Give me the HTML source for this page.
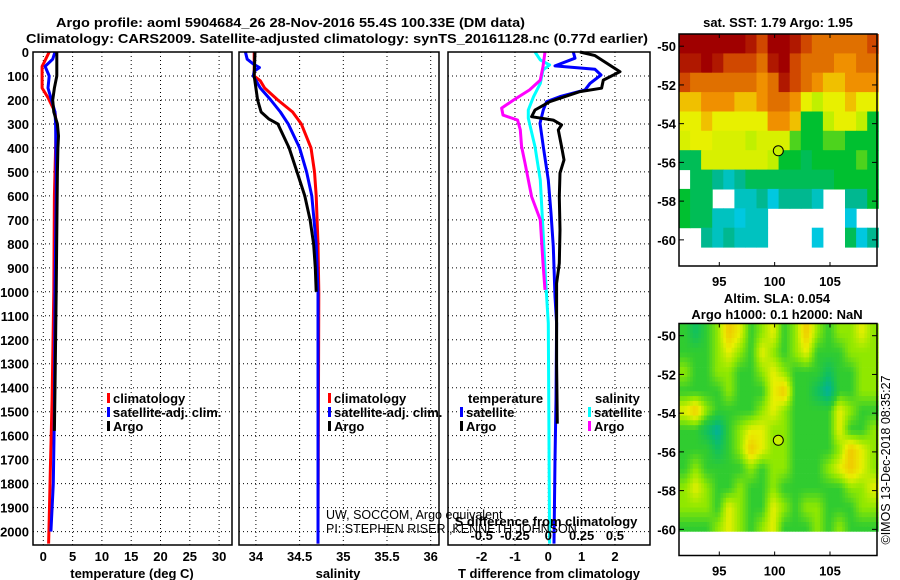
<!DOCTYPE html>
<html><head><meta charset="utf-8">
<style>
html,body{margin:0;padding:0;background:#fff;}
svg{display:block;font-family:"Liberation Sans",Arial,sans-serif;}
.b{font-weight:bold;font-size:13px;}
</style></head>
<body>
<svg id="c" width="900" height="580" viewBox="0 0 900 580"></svg>
<script>
// ---------- data ----------
const tDepthClim=[0,40,60,150,190,250,300,500,600,1000,1450,1750,1950,2050];
const tClim=[1.0,0.2,-0.2,-0.2,0.8,2.0,2.2,2.0,1.9,1.8,1.5,1.2,1.0,0.9];
const tDepthSat=[0,30,60,100,150,200,250,300,500,600,1000,1500,1800,2000];
const tSat=[2.0,1.6,0.3,1.0,0.8,1.4,2.0,2.1,2.2,2.2,2.0,1.9,1.7,1.3];
const tDepthArgo=[0,100,150,200,250,300,350,400,500,1000,1400,1580];
const tArgo=[2.3,2.3,1.9,1.6,1.8,2.4,2.6,2.5,2.4,2.2,2.0,1.9];
const sDepthClim=[0,100,120,150,200,250,300,400,500,600,800,1000,2050];
const sClim=[33.98,33.98,34.05,34.10,34.25,34.42,34.52,34.63,34.67,34.69,34.71,34.72,34.71];
const sDepthSat=[0,30,50,65,80,100,150,200,250,300,400,500,600,800,1000,2050];
const sSat=[33.88,33.9,33.97,34.04,33.98,33.97,34.05,34.17,34.28,34.37,34.5,34.58,34.64,34.69,34.71,34.71];
const sDepthArgo=[0,100,200,250,280,300,400,500,600,700,800,900,1000];
const sArgo=[33.99,33.98,34.02,34.06,34.15,34.25,34.38,34.47,34.56,34.62,34.66,34.68,34.69];
const dtDepthArgo=[0,15,82,117,151,165,207,242,270,284,304,325,395,450,505,603,742,881,965,1100,1300,1550];
const dtArgo=[0.95,1.4,2.15,1.65,1.6,0.95,0.05,-0.4,-0.5,0.15,0.4,0.3,0.4,0.47,0.35,0.33,0.35,0.33,0.25,0.25,0.25,0.27];
const dtDepthSat=[0,26,58,72,96,131,158,186,207,242,297,395,534,672,812,1020,1131,1450,1700,2050];
const dtSat=[0.75,0.8,0.2,1.4,1.58,1.25,1.1,0.35,-0.05,-0.15,-0.25,-0.15,0,0.08,0.15,0.2,0.25,0.23,0.2,0.17];
const dsDepthSat=[0,33,54,75,131,186,242,276,395,534,742,951,1131,2050];
const dsSat=[-0.1,-0.06,0.01,-0.04,-0.06,-0.11,-0.15,-0.15,-0.1,-0.06,-0.04,-0.02,0,0.01];
const dsDepthArgo=[0,61,117,158,200,234,263,284,325,395,463,603,700,881,992];
const dsArgo=[-0.025,-0.04,-0.06,-0.14,-0.26,-0.35,-0.34,-0.23,-0.21,-0.2,-0.175,-0.125,-0.06,-0.04,-0.025];
const depthTicks=[0,100,200,300,400,500,600,700,800,900,1000,1100,1200,1300,1400,1500,1600,1700,1800,1900,2000];
const tTicks=[0,5,10,15,20,25,30];
const sTicks=[34,34.5,35,35.5,36];
const sTickLabels=["34","34.5","35","35.5","36"];
const dtTicks=[-2,-1,0,1,2];
const dsTicks=[-0.5,-0.25,0,0.25,0.5];
const latTicks=[-50,-52,-54,-56,-58,-60];
const lonTicks=[95,100,105];
const N=NaN;
const sstGrid=[
[6,6,6,6,6,6,5.5,5,6,6,5.5,5,4.5,4.5,4.5,4.5,4.5,5],
[5.5,5.5,6,5.5,5,5,5,4.5,5.5,6,5,4.5,4.5,4.5,4,4,4.5,4.5],
[5,4.5,4.5,4.5,4.5,4.5,4.5,4,4.5,5.5,5,4.5,4,3.5,3.5,4,4,4],
[3.5,3.5,4,4,4,3.5,3.5,4,4.5,4.5,4,3,2.5,3,3,3.5,3,3],
[3,3,3.5,3,3,3,3,3,4,4,3.5,2,2,2.5,3,3,2.5,2],
[2.8,3,3,2.8,2.8,2.8,2.5,2.8,2.8,2.8,2.2,2,2,2.2,2.2,2,2,2],
[1.8,1.8,2.8,2.8,2.8,2.8,2.8,2.8,2.5,2,2,1.8,2,2,2,2,2.2,2],
[N,1.8,1.8,1.5,1.2,1.5,1.8,1.8,1.8,1.8,1.8,1.8,1.8,1.8,2,2,2,2],
[2,1.8,1.8,N,N,1.2,1.2,1.5,1,1.5,1.5,1.5,1.2,N,N,1.5,1.5,2],
[2,1.8,1.8,1.2,1.2,1,1.2,1.2,N,N,N,N,N,N,N,1,N,N],
[N,N,1.5,1.2,1.5,1.2,1.2,1.2,N,N,N,N,1,N,N,1.8,1,1.5],
[N,N,N,N,N,N,N,N,N,N,N,N,N,N,N,N,N,N]];
const slaGrid=[
[0,-0.5,0,0.5,1.5,1,0,0.5,1,0,0.5,1.5,0.5,0,0.5,0.5,1,0.5],
[0,0,0,0.5,1,0.5,0,1,0.5,0,0.5,1,0,0,0,0.5,0.5,0.5],
[0.5,0,0,0.5,0.5,0,0,0.5,1,0.5,0,0,0,-0.5,0,0,0.5,0.5],
[0,0,0,0,0.5,0,0,0,1,1.5,0,0,-0.5,-1,0,0,0.5,0.5],
[1,1.5,0.5,0,0,0,0,0.5,1,0.5,0,0,0,0,1,0.5,0,0],
[0,0,-0.5,-1,0,0.5,1,1,0.5,0.5,0,0,0,0,1,0,0,0.5],
[0,0,0,-0.5,0,0.5,1.5,1,0.5,0.5,0,0,0,0,0.5,1.5,1,0.5],
[0,0.5,0,0,0,0,0.5,0,0.5,0.5,0,0,0,0.5,1,1.5,1,0.5],
[0.5,1,0.5,0,0,0.5,0,0,0.5,0,0,0,0,0,0,0.5,0.5,1],
[0.5,0.5,0.5,0,1,0.5,0,0,1,0.5,0,0.5,0.5,0,0,0,0.5,0.5],
[0,0,0,0.5,1,0.5,0,0.5,1,0,0,0,0.5,0,0.5,0,0,0]];
const argoLon=100.33, argoLat=-55.4;

// ---------- helpers ----------
const svg=document.getElementById('c');
const NS='http://www.w3.org/2000/svg';
function el(tag,attrs,parent){const e=document.createElementNS(NS,tag);for(const k in attrs)e.setAttribute(k,attrs[k]);(parent||svg).appendChild(e);return e;}
function txt(s,x,y,attrs,parent){const e=el('text',Object.assign({x:x,y:y},attrs||{}),parent);e.textContent=s;return e;}
const Y0=52, PY=0.2398, YB=545;
const yD=d=>Y0+d*PY;
const P1={l:33,r:232}, P2={l:239,r:439}, P3={l:448,r:650};
const xT=t=>43.3+t*5.86;
const xS=s=>343.3+(s-35)*87.4;
const xDT=v=>548.3+v*33.33;
const xDS=v=>548.3+v*133.3;

function panel(P,name,xTicks,xf,labels){
  const g=el('g',{},svg);
  
  
  for(const d of depthTicks){ if(d===0)continue; el('line',{x1:P.l,x2:P.r,y1:yD(d),y2:yD(d),stroke:'#000','stroke-width':1,'stroke-dasharray':'1,3'},g);}
  xTicks.forEach((t,i)=>{const x=xf(t); el('line',{x1:x,x2:x,y1:Y0,y2:YB,stroke:'#000','stroke-width':1,'stroke-dasharray':'1,3'},g);
    if(labels) txt(labels[i],x,561,{'text-anchor':'middle',class:'b'},g);});
  return g;
}
function line(xs,ds,xf,color,name,g){
  const pts=xs.map((v,i)=>xf(v).toFixed(1)+','+yD(ds[i]).toFixed(1)).join(' ');
  const p=el('polyline',{points:pts,fill:'none',stroke:color,'stroke-width':3,'stroke-linejoin':'round'},g);
  
  
}
function frame(P,g){el('rect',{x:P.l,y:Y0,width:P.r-P.l,height:YB-Y0,fill:'none',stroke:'#000','stroke-width':1.5},g);}

// ---------- titles ----------
let t1=txt('Argo profile: aoml 5904684_26 28-Nov-2016 55.4S 100.33E (DM data)',56,27,{class:'b','font-size':'14px',textLength:469,lengthAdjust:'spacingAndGlyphs'});

let t2=txt('Climatology: CARS2009. Satellite-adjusted climatology: synTS_20161128.nc (0.77d earlier)',26,43,{class:'b','font-size':'14px',textLength:622,lengthAdjust:'spacingAndGlyphs'});


// depth labels
for(const d of depthTicks){const e=txt(String(d),29,yD(d)+5,{'text-anchor':'end',class:'b'});
  }

// panel 1
const g1=panel(P1,'temperature-panel',tTicks,xT,tTicks.map(String));
line(tClim,tDepthClim,xT,'#ff0000','temperature-climatology-line',g1);
line(tSat,tDepthSat,xT,'#0000ff','temperature-satellite-line',g1);
line(tArgo,tDepthArgo,xT,'#000000','temperature-argo-line',g1);
frame(P1,g1);
txt('temperature (deg C)',132,578,{'text-anchor':'middle',class:'b'});

// panel 2
const g2=panel(P2,'salinity-panel',sTicks,xS,sTickLabels);
line(sClim,sDepthClim,xS,'#ff0000','salinity-climatology-line',g2);
line(sSat,sDepthSat,xS,'#0000ff','salinity-satellite-line',g2);
line(sArgo,sDepthArgo,xS,'#000000','salinity-argo-line',g2);
frame(P2,g2);
txt('salinity',338,578,{'text-anchor':'middle',class:'b'});

// panel 3
const g3=panel(P3,'difference-panel',dtTicks,xDT,dtTicks.map(String));
line(dsSat,dsDepthSat,xDS,'#00ffff','salinity-diff-satellite-line',g3);
line(dsArgo,dsDepthArgo,xDS,'#ff00ff','salinity-diff-argo-line',g3);
line(dtSat,dtDepthSat,xDT,'#0000ff','temperature-diff-satellite-line',g3);
line(dtArgo,dtDepthArgo,xDT,'#000000','temperature-diff-argo-line',g3);
frame(P3,g3);
txt('T difference from climatology',549,578,{'text-anchor':'middle',class:'b'});
txt('S difference from climatology',546,526,{'text-anchor':'middle',class:'b'});
dsTicks.forEach(v=>txt(String(v),xDS(v),540,{'text-anchor':'middle',class:'b'}));

// legends
function legend(x,y,color,label,name){
  const g=el('g',{});
  
  el('rect',{x:x,y:y-10,width:3,height:10,fill:color},g);
  txt(label,x+6,y,{class:'b'},g);
}
legend(107,403,'#ff0000','climatology','legend-climatology');
legend(107,417,'#0000ff','satellite-adj. clim.','legend-satellite-adj');
legend(107,431,'#000000','Argo','legend-argo');
legend(328,403,'#ff0000','climatology','legend-climatology-2');
legend(328,417,'#0000ff','satellite-adj. clim.','legend-satellite-adj-2');
legend(328,431,'#000000','Argo','legend-argo-2');
txt('temperature',468,403,{class:'b'});
legend(460,417,'#0000ff','satellite','legend-t-satellite');
legend(460,431,'#000000','Argo','legend-t-argo');
txt('salinity',595,403,{class:'b'});
legend(588,417,'#00ffff','satellite','legend-s-satellite');
legend(588,431,'#ff00ff','Argo','legend-s-argo');
txt('UW, SOCCOM, Argo equivalent',326,519,{'font-size':'12.5px'});
txt('PI: STEPHEN RISER ,KENNETH JOHNSON',326,533,{'font-size':'12.5px'});

// ---------- maps ----------
const lonL=91.36, lonR=109.25, latT=-49.37;
const mx=lon=>679+(lon-lonL)*11.07;
function hex(c){return [parseInt(c.slice(1,3),16),parseInt(c.slice(3,5),16),parseInt(c.slice(5,7),16)];}
function cmap(stops,v){
  if(v<=stops[0][0])return stops[0][1];
  for(let i=1;i<stops.length;i++){if(v<=stops[i][0]){const a=stops[i-1],b=stops[i];const f=(v-a[0])/(b[0]-a[0]);
    const A=hex(a[1]),B=hex(b[1]);return 'rgb('+A.map((q,k)=>Math.round(q+(B[k]-q)*f)).join(',')+')';}}
  return stops[stops.length-1][1];
}
const sstStops=[[1,'#00c8e0'],[1.5,'#00b890'],[2,'#00c030'],[2.5,'#c0f000'],[3,'#e8f000'],[3.5,'#f0c000'],[4,'#f09000'],[4.5,'#e07000'],[5,'#d04800'],[5.5,'#b01800'],[6,'#a00000']];
const slaStops=[[-1,'#00b0a0'],[-0.5,'#10c060'],[0,'#30cc30'],[0.5,'#90e800'],[1,'#e8f000'],[1.5,'#f0c800']];

function map(top,name,grid,stops,smooth,dataBottomLat){
  const g=el('g',{});
  const latB=-61.35, h=232;
  const my=lat=>top+(latT-lat)*(h/(latT-latB));
  const rows=grid.length, cols=grid[0].length;
  if(!smooth){
    for(let r=0;r<rows;r++)for(let c=0;c<cols;c++){const v=grid[r][c];if(isNaN(v))continue;
      const x0=mx(lonL+c),x1=mx(lonL+c+1),y0=my(latT-r),y1=my(latT-r-1);
      const cell=el('rect',{x:x0.toFixed(1),y:y0.toFixed(1),width:(x1-x0+0.5).toFixed(1),height:(y1-y0+0.5).toFixed(1),fill:cmap(stops,v)},g);
      }
  } else {
    const sub=4;
    for(let r=0;r<rows*sub;r++){const lat=latT-(r+0.5)/sub; if(lat<dataBottomLat)continue;
      for(let c=0;c<cols*sub;c++){
        const fr=Math.min(Math.max((r+0.5)/sub-0.5,0),rows-1), fc=Math.min(Math.max((c+0.5)/sub-0.5,0),cols-1);
        const r0=Math.floor(fr),c0=Math.floor(fc),r1=Math.min(r0+1,rows-1),c1=Math.min(c0+1,cols-1),a=fr-r0,b=fc-c0;
        const v=grid[r0][c0]*(1-a)*(1-b)+grid[r0][c1]*(1-a)*b+grid[r1][c0]*a*(1-b)+grid[r1][c1]*a*b;
        const x0=mx(lonL+c/sub),x1=mx(lonL+(c+1)/sub),y0=my(latT-r/sub),y1=Math.min(my(latT-(r+1)/sub),my(dataBottomLat));
        const cell=el('rect',{x:x0.toFixed(1),y:y0.toFixed(1),width:(x1-x0+0.4).toFixed(1),height:(y1-y0+0.4).toFixed(1),fill:cmap(stops,v)},g);
        }}
  }
  el('rect',{x:679,y:top,width:198,height:h,fill:'none',stroke:'#000','stroke-width':1.5},g);
  for(const lat of latTicks){const y=my(lat);
    el('line',{x1:679,x2:684,y1:y,y2:y,stroke:'#000'},g);el('line',{x1:872,x2:877,y1:y,y2:y,stroke:'#000'},g);
    txt(String(lat),676,y+5,{'text-anchor':'end',class:'b'},g);}
  for(const lon of lonTicks){const x=mx(lon);
    el('line',{x1:x,x2:x,y1:top,y2:top+4,stroke:'#000'},g);el('line',{x1:x,x2:x,y1:top+h-4,y2:top+h,stroke:'#000'},g);
    txt(String(lon),x,top+h+20,{'text-anchor':'middle',class:'b'},g);}
  const m=el('circle',{cx:mx(argoLon),cy:my(argoLat),r:5,fill:'#c8f000',stroke:'#000','stroke-width':1},g);
  
}
map(34,'sst-map',sstGrid,sstStops,false,-61.35);
map(323.5,'sla-map',slaGrid,slaStops,true,-60.1);
txt('sat. SST: 1.79 Argo: 1.95',778,27,{'text-anchor':'middle',class:'b'});
txt('Altim. SLA: 0.054',777,303,{'text-anchor':'middle',class:'b'});
txt('Argo h1000: 0.1 h2000: NaN',777,319,{'text-anchor':'middle',class:'b'});
txt('©IMOS 13-Dec-2018 08:35:27',0,0,{'font-size':'12.5px','text-anchor':'middle',transform:'translate(890,460) rotate(-90)'});
</script>
</body></html>
